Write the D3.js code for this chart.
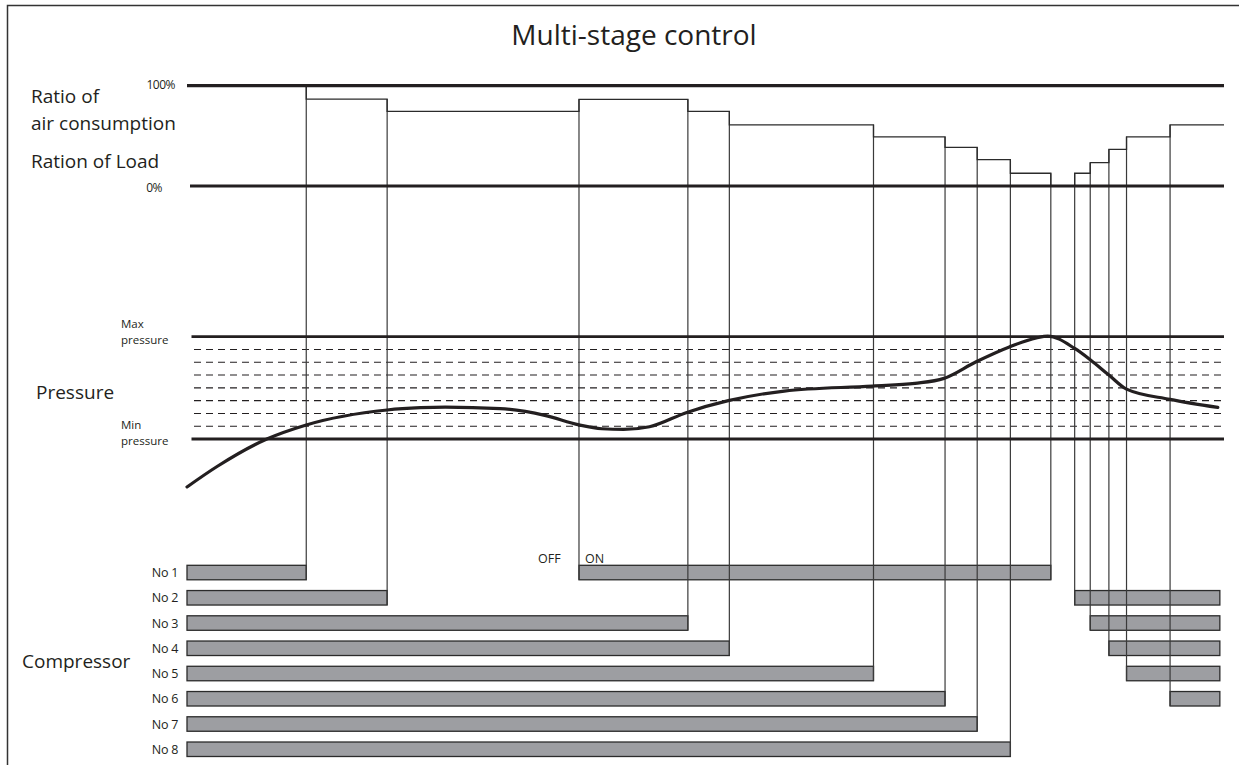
<!DOCTYPE html>
<html><head><meta charset="utf-8">
<script src="https://cdn.jsdelivr.net/npm/d3@7"></script>
<style>
body{margin:0;background:#fff}
text{font-family:'Open Sans',sans-serif;fill:#231f20}
</style>
</head><body><svg id="c" width="1239" height="765"></svg>
<script>
// ---------- DATA ----------
const chartTitle = "Multi-stage control";
// time axis in arbitrary units (0 - 100)
const loadTimes  = [0, 11.5, 19.3, 37.8, 48.3, 52.3, 66.2, 73.1, 76.2, 79.4, 83.3, 85.6, 87.1, 88.9, 90.6, 94.8];
const loadValues = [100, 86.7, 74.5, 86.4, 74.5, 61, 49, 38.6, 26.3, 12.7, 0, 12.7, 23.3, 36.6, 49, 61];
const loadEnd = 100;
const loadTickLabels = ["100%", "0%"];
const loadTickValues = [100, 0];

const pressureTimes  = [0, 2.9, 7.7, 11.5, 19.3, 22.5, 24.9, 30.2, 34.5, 37.8, 40.0, 42.1, 44.6, 48.2, 52.2, 57.6, 66.1, 70.2, 73.0, 76.1, 79.3, 81.9, 83.0, 85.6, 87.1, 88.9, 90.6, 94.8, 99.4];
const pressureValues = [-3.75, -2.15, 0, 1.1, 2.27, 2.45, 2.5, 2.38, 1.85, 1.1, 0.8, 0.75, 0.96, 2.08, 3.0, 3.75, 4.14, 4.35, 4.74, 6.04, 7.2, 7.9, 8.05, 7.08, 6.2, 5.0, 3.9, 3.1, 2.47];
const pressureMin = 0, pressureMax = 8;
const pressureSteps = [1, 2, 3, 4, 5, 6, 7];

const compressorNames = ["No 1", "No 2", "No 3", "No 4", "No 5", "No 6", "No 7", "No 8"];
const runCompressor = ["No 1", "No 1", "No 2", "No 2", "No 3", "No 3", "No 4", "No 4", "No 5", "No 5", "No 6", "No 6", "No 7", "No 8"];
const runStart      = [0, 37.8, 0, 85.6, 0, 87.1, 0, 88.9, 0, 90.6, 0, 94.8, 0, 0];
const runEnd        = [11.5, 83.3, 19.3, 99.6, 48.3, 99.6, 52.3, 99.6, 66.2, 99.6, 73.1, 99.6, 76.2, 79.4];
const barEnd = 99.6;

// ---------- SCALES ----------
const svg = d3.select("#c");
const x = d3.scaleLinear().domain([0, 100]).range([187, 1224]);
const yLoad = d3.scaleLinear().domain([0, 100]).range([186, 85.7]);
const yP = d3.scaleLinear().domain([pressureMin, pressureMax]).range([439, 336.7]);
const yC = d3.scaleBand().domain(compressorNames).range([565.3, 756.5]).paddingInner(0.426).paddingOuter(0);

const ink = "#231f20";

// frame
svg.append("path").attr("d", "M7.5,765V5.5H1239").attr("fill", "none").attr("stroke", "#333").attr("stroke-width", 1.5);

// title
svg.append("text").attr("x", 634).attr("y", 45).attr("text-anchor", "middle")
  .style("font-size", "28px").text(chartTitle);

// dashed pressure steps
svg.append("g").selectAll("line").data(pressureSteps).join("line")
  .attr("x1", x(0) + 7).attr("x2", x(100))
  .attr("y1", d => yP(d)).attr("y2", d => yP(d))
  .attr("stroke", ink).attr("stroke-width", 1.1).attr("stroke-dasharray", "7,5");

// compressor bars
svg.append("g").selectAll("rect").data(runStart.map((s, i) => ({s, e: runEnd[i], c: runCompressor[i]}))).join("rect")
  .attr("x", d => x(d.s)).attr("width", d => x(d.e) - x(d.s))
  .attr("y", d => yC(d.c)).attr("height", yC.bandwidth())
  .attr("fill", "#9d9ea2").attr("stroke", "#2b2b2b").attr("stroke-width", 1.3);

// helper: load level around time t
function loadTop(t) {
  let i = d3.bisectRight(loadTimes, t) - 1;
  const after = i >= 0 ? loadValues[i] : 0;
  const before = i > 0 && loadTimes[i] === t ? loadValues[i - 1] : after;
  return Math.max(before, after);
}

// event lines (switch on/off)
const events = [];
runStart.forEach((s, i) => {
  const c = runCompressor[i];
  if (s > 0) events.push({t: s, c});
  if (runEnd[i] < barEnd) events.push({t: runEnd[i], c});
});
svg.append("g").selectAll("line").data(events).join("line")
  .attr("x1", d => x(d.t)).attr("x2", d => x(d.t))
  .attr("y1", d => yLoad(loadTop(d.t))).attr("y2", d => yC(d.c) + yC.bandwidth())
  .attr("stroke", "#3a3a3a").attr("stroke-width", 1.2);

// load step path
const stepData = loadTimes.map((t, i) => [t, loadValues[i]]).concat([[loadEnd, loadValues[loadValues.length - 1]]]);
svg.append("path").datum(stepData)
  .attr("d", d3.line().x(d => x(d[0])).y(d => yLoad(d[1])).curve(d3.curveStepAfter))
  .attr("fill", "none").attr("stroke", "#2b2b2b").attr("stroke-width", 1.3);

// load reference lines
svg.append("g").selectAll("line").data(loadTickValues).join("line")
  .attr("x1", d => d === 0 ? x(0) + 3 : x(0)).attr("x2", x(100))
  .attr("y1", d => yLoad(d)).attr("y2", d => yLoad(d))
  .attr("stroke", ink).attr("stroke-width", 3.2);
svg.append("g").selectAll("text").data(loadTickValues).join("text")
  .attr("x", d => d === 0 ? 162 : 175).attr("y", d => yLoad(d) + (d === 0 ? 6 : 3))
  .attr("text-anchor", "end").style("font-size", "12px").style("letter-spacing", "-0.5px")
  .text((d, i) => loadTickLabels[i]);

// pressure min/max lines
svg.append("g").selectAll("line").data([pressureMin, pressureMax]).join("line")
  .attr("x1", x(0) + 4.5).attr("x2", x(100))
  .attr("y1", d => yP(d)).attr("y2", d => yP(d))
  .attr("stroke", ink).attr("stroke-width", 2.8);

// pressure curve
svg.append("path").datum(pressureTimes.map((t, i) => [t, pressureValues[i]]))
  .attr("d", d3.line().x(d => x(d[0])).y(d => yP(d[1])).curve(d3.curveMonotoneX))
  .attr("fill", "none").attr("stroke", ink).attr("stroke-width", 3.2).attr("stroke-linecap", "round");

// left labels
const big = "19px";
function lbl(t, xx, yy, size, anchor) {
  svg.append("text").attr("x", xx).attr("y", yy).attr("text-anchor", anchor || "start")
    .style("font-size", size).text(t);
}
lbl("Ratio of", 31, 103, big);
lbl("air consumption", 31, 129.5, big);
lbl("Ration of Load", 31, 168, big);
lbl("Pressure", 36, 399, big);
lbl("Compressor", 22, 668, big);
lbl("Max", 121, 327.5, "11.5px");
lbl("pressure", 121, 343.5, "11.5px");
lbl("Min", 121, 428.5, "11.5px");
lbl("pressure", 121, 444.5, "11.5px");

// compressor labels
svg.append("g").selectAll("text").data(compressorNames).join("text")
  .attr("x", 178).attr("y", d => yC(d) + yC.bandwidth() / 2 + 4.5)
  .attr("text-anchor", "end").style("font-size", "12.5px").style("letter-spacing", "-0.3px").text(d => d);

// OFF / ON
lbl("OFF", 538, 563, "12.5px");
lbl("ON", 585, 563, "12.5px");
</script>
</body></html>
